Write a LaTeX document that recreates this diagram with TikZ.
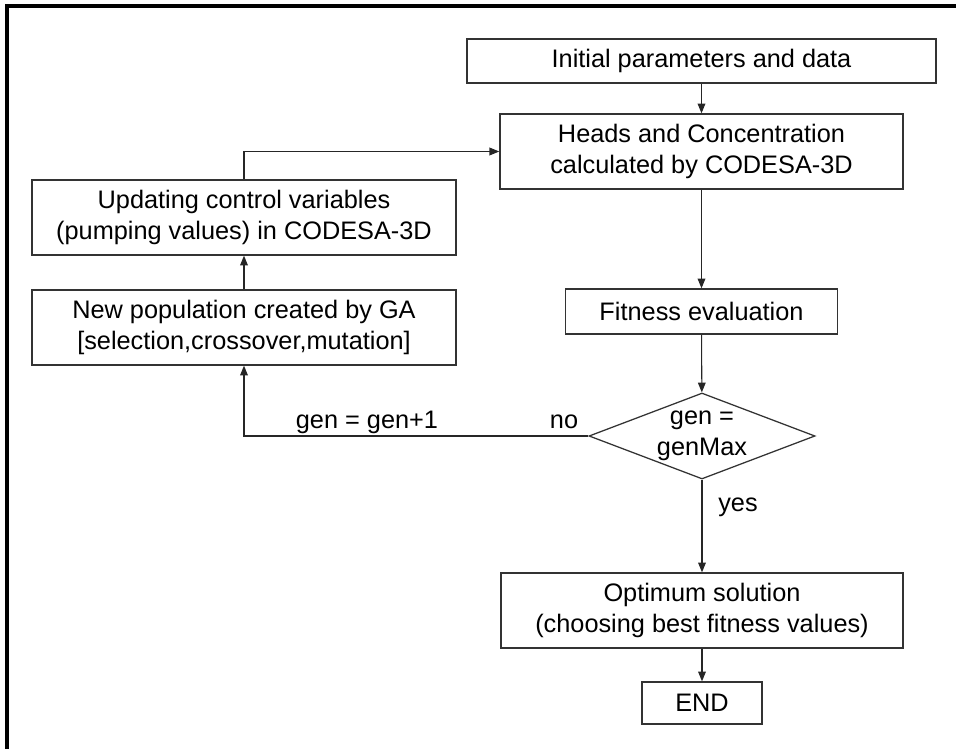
\documentclass[tikz,border=0pt]{standalone}
\usepackage{fontspec}
\setmainfont{Liberation Sans}
\usetikzlibrary{arrows.meta,shapes.geometric}
\begin{document}
\begin{tikzpicture}[x=0.025cm, y=-0.025cm,
  every node/.style={font=\fontsize{18}{22}\selectfont, text=black},
  box/.style={draw=black!80, line width=0.9pt, align=center, inner sep=0pt},
  decision/.style={draw=black!80, line width=0.9pt, diamond, inner sep=0pt},
  arr/.style={draw=black!85, line width=0.75pt, -{Triangle[length=7pt,width=5.5pt]}}]
\useasboundingbox (0,0) rectangle (956,749);
\draw[line width=2.2pt] (7,749) -- (7,6) -- (956,6);

\node[box, minimum width=11.725cm, minimum height=1.1cm] (init) at (701.5,61) {Initial parameters and data};
\node[box, minimum width=10.075cm, minimum height=1.875cm] (heads) at (701.5,151.5) {Heads and Concentration\\calculated by CODESA-3D};
\node[box, minimum width=10.6cm, minimum height=1.875cm] (upd) at (244,217.5) {Updating control variables\\(pumping values) in CODESA-3D};
\node[box, minimum width=10.6cm, minimum height=1.875cm] (newpop) at (244,327.5) {New population created by GA\\{[selection,crossover,mutation]}};
\node[box, minimum width=6.8cm, minimum height=1.125cm] (fit) at (701.5,311.5) {Fitness evaluation};
\node[decision, minimum width=5.65cm, minimum height=2.15cm] (dec) at (702,436) {};
\node[align=center, inner sep=0pt] (dectext) at (dec.center) {gen =\\genMax};
\node[box, minimum width=10.05cm, minimum height=1.875cm] (opt) at (702,610.5) {Optimum solution\\(choosing best fitness values)};
\node[box, minimum width=3cm, minimum height=1.05cm] (end) at (702,703) {END};

\draw[arr] (init) -- (heads);
\draw[arr] (heads) -- (fit);
\draw[arr] (fit) -- (dec);
\draw[arr] (dec) -- (opt);
\draw[arr] (opt) -- (end);
\draw[arr] (newpop) -- (upd);
\draw[arr] (upd.north) |- (heads.west);
\draw[arr] (dec.west) -| (newpop.south);

\node (no) at (564,422) {no};
\node (genplus) at (367,422) {gen = gen+1};
\node (yes) at (738,507) {yes};
\end{tikzpicture}
\end{document}
